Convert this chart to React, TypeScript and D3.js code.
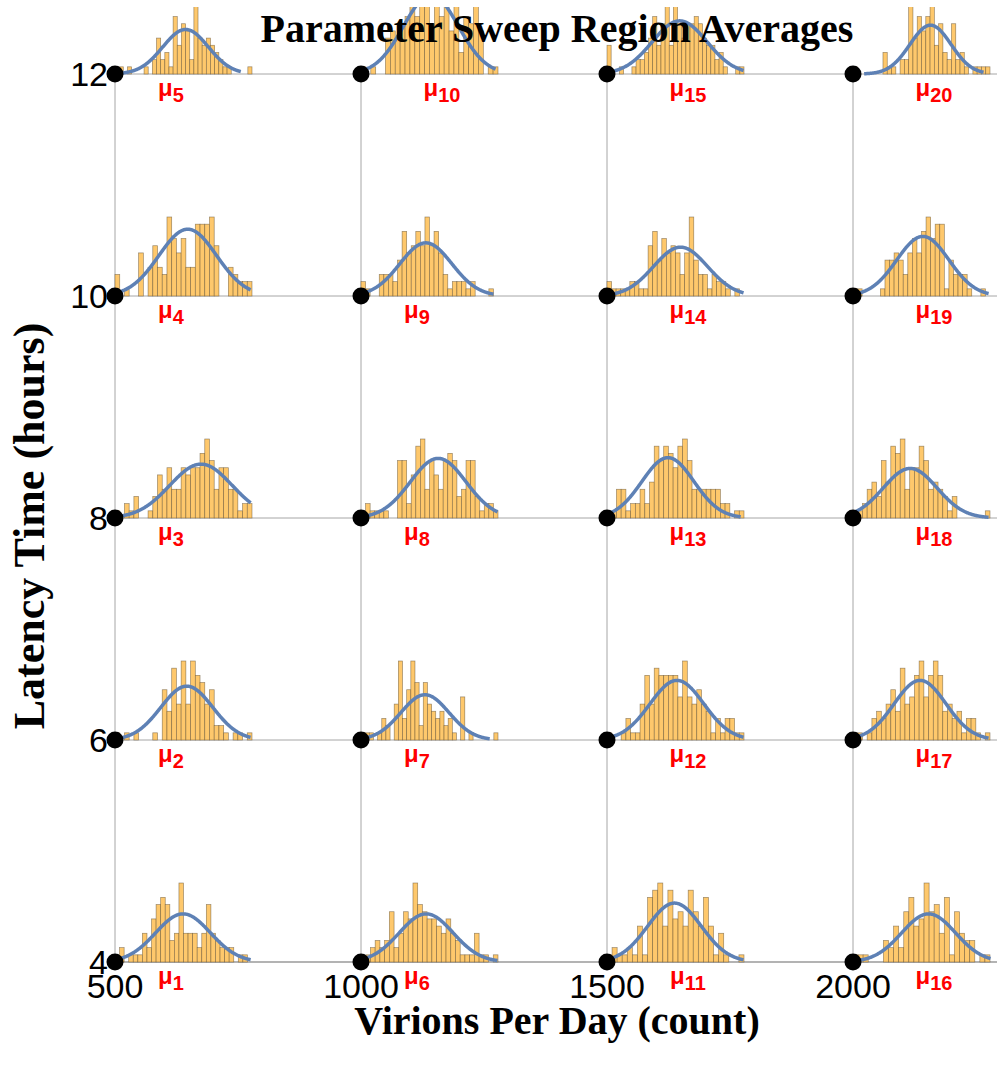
import * as d3 from "d3"

// grid of the sweep
const latencyTicks = [4, 6, 8, 10, 12]
const virionTicks = [500, 1000, 1500, 2000]

// histogram bin heights for each region
const mu1 = [0, 2, 0, 1, 1, 1, 4, 2, 6, 8, 9, 8, 3, 4, 11, 4, 4, 4, 2, 4, 8, 4, 3, 2, 2, 2, 0, 1, 1, 0]
const mu2 = [1, 0, 1, 0, 1, 0, 0, 0, 1, 0, 7, 4, 10, 5, 11, 5, 11, 9, 8, 5, 7, 2, 2, 1, 0, 1, 1, 0, 1]
const mu3 = [1, 0, 2, 1, 3, 0, 0, 1, 3, 6, 4, 7, 4, 4, 7, 6, 7, 7, 9, 11, 8, 4, 7, 7, 4, 4, 1, 2, 2]
const mu4 = [3, 0, 1, 0, 0, 6, 0, 4, 7, 4, 3, 11, 8, 6, 8, 4, 4, 10, 10, 10, 11, 7, 0, 0, 4, 3, 2, 2, 2]
const mu5 = [0, 1, 0, 1, 0, 0, 0, 1, 0, 2, 5, 2, 3, 1, 8, 4, 7, 6, 2, 10, 5, 4, 5, 4, 3, 2, 1, 1, 0, 0, 0, 0, 1]
const mu6 = [0, 1, 2, 3, 2, 3, 7, 2, 4, 7, 6, 11, 8, 7, 6, 6, 5, 4, 6, 4, 3, 1, 1, 1, 4, 1, 1, 0, 1]
const mu7 = [1, 1, 1, 0, 1, 3, 2, 0, 5, 11, 3, 7, 11, 8, 2, 8, 5, 4, 3, 4, 2, 3, 1, 0, 6, 0, 1, 0, 0, 0, 0, 0, 1]
const mu8 = [1, 2, 1, 1, 1, 1, 0, 0, 8, 8, 2, 6, 10, 11, 4, 8, 6, 4, 8, 9, 8, 3, 4, 8, 8, 3, 1, 2, 2, 1]
const mu9 = [2, 1, 0, 0, 3, 3, 3, 2, 5, 9, 6, 7, 9, 7, 11, 7, 9, 6, 3, 1, 2, 2, 2, 1, 2, 0, 0, 0, 1, 0]
const mu10 = [1, 0, 1, 0, 0, 5, 6, 5, 7, 8, 11, 8, 12, 11, 7, 11, 8, 10, 6, 11, 3, 8, 7, 10, 6, 0, 1, 1]
const mu11 = [1, 2, 1, 1, 2, 1, 5, 1, 9, 10, 11, 5, 10, 6, 7, 5, 10, 7, 5, 9, 5, 1, 4, 1, 0, 0, 1]
const mu12 = [1, 0, 0, 1, 3, 1, 1, 5, 9, 5, 10, 9, 9, 9, 9, 6, 11, 6, 5, 7, 5, 4, 1, 3, 1, 3, 3, 1, 1]
const mu13 = [0, 1, 4, 4, 1, 2, 2, 4, 2, 5, 10, 8, 10, 9, 7, 10, 11, 8, 4, 4, 4, 4, 4, 4, 2, 2, 0, 1, 1]
const mu14 = [2, 1, 1, 1, 1, 2, 2, 1, 1, 7, 9, 5, 8, 6, 7, 6, 3, 6, 11, 5, 3, 3, 1, 3, 2, 2, 1, 0, 1, 0]
const mu15 = [4, 0, 0, 1, 0, 0, 1, 2, 2, 3, 5, 8, 4, 7, 10, 4, 10, 7, 5, 7, 7, 8, 7, 5, 4, 4, 2, 3, 1, 0, 0, 1, 1]
const mu16 = [1, 1, 1, 0, 0, 0, 3, 2, 5, 2, 7, 9, 5, 6, 11, 7, 8, 4, 9, 1, 7, 4, 3, 3, 0, 1, 1]
const mu17 = [1, 1, 0, 1, 3, 4, 3, 5, 7, 4, 10, 5, 6, 9, 11, 6, 9, 11, 9, 4, 5, 3, 4, 1, 3, 3, 1, 0, 1]
const mu18 = [0, 1, 2, 4, 5, 3, 8, 5, 10, 9, 11, 4, 7, 7, 10, 8, 4, 5, 4, 3, 1, 3, 0, 0, 0, 0, 0, 0, 1]
const mu19 = [1, 1, 0, 0, 0, 0, 1, 5, 5, 6, 5, 3, 6, 8, 6, 9, 11, 8, 10, 10, 1, 5, 3, 3, 3, 1, 0, 0, 1, 0]
const mu20 = [1, 0, 0, 0, 0, 0, 0, 3, 1, 1, 0, 2, 2, 10, 5, 8, 6, 8, 10, 4, 7, 3, 2, 7, 2, 3, 1, 0, 1, 1, 1, 1]

const regionCounts = [mu1, mu2, mu3, mu4, mu5, mu6, mu7, mu8, mu9, mu10,
    mu11, mu12, mu13, mu14, mu15, mu16, mu17, mu18, mu19, mu20]

// fitted normal curve per region, in bin units
const fitMean = [14.9, 15.2, 18.2, 15.4, 17.0, 13.8, 15.4, 16.9, 14.2, 14.3,
    13.3, 14.8, 12.9, 16.1, 17.5, 14.9, 14.2, 12.1, 15.3, 18.1]
const fitSd = [6.0, 5.5, 6.6, 6.1, 5.5, 5.7, 5.8, 6.1, 5.7, 5.6,
    5.3, 5.7, 5.5, 5.9, 6.6, 5.3, 5.5, 5.7, 5.7, 4.8]
const fitPeak = [6.7, 7.5, 7.5, 9.3, 6.2, 6.7, 6.3, 8.3, 7.4, 11,
    8.2, 8.3, 8.4, 6.8, 7.4, 6.7, 8.3, 6.9, 8.3, 6.8]
const fitStart = [0, 0, 0, 0, 0.6, 0, 0, 0, 0, 0,
    0, 0, 0, 0, 0, 0, 0, 0, 0, 2.6]
const fitEnd = [29.8, 28.8, 28.8, 28.8, 30.4, 29, 31.1, 30, 29.1, 27.6,
    27, 29, 28.4, 30, 33, 27.2, 28.8, 28.8, 29.8, 30.6]

export default function App() {
    const width = 997
    const height = 1070
    const x = d3.scaleLinear().domain([500, 2000]).range([115, 853])
    const y = d3.scaleLinear().domain([4, 12]).range([962, 74])
    const insetW = 137
    const insetH = 79

    const sans = "'Liberation Sans', Arial, sans-serif"
    const serif = "'Liberation Serif', 'Times New Roman', serif"

    const insets = regionCounts.map((counts, k) => {
        const col = Math.floor(k / 5)
        const row = k % 5
        const px = x(virionTicks[col])
        const py = y(latencyTicks[row])
        const n = counts.length
        const lx = d3.scaleLinear().domain([0, n]).range([px, px + insetW])
        const ly = d3.scaleLinear().domain([0, 11]).range([py, py - insetH])
        const pts: [number, number][] = []
        for (let t = fitStart[k]; t <= fitEnd[k]; t += 0.1) {
            pts.push([t, fitPeak[k] * Math.exp(-((t - fitMean[k]) ** 2) / (2 * fitSd[k] ** 2))])
        }
        const path = d3.line<[number, number]>().x((d) => lx(d[0])).y((d) => ly(d[1]))(pts)
        return { k, px, py, counts, lx, ly, path }
    })

    return (
        <svg width={width} height={height} style={{ position: "absolute", left: 0, top: 0, background: "#fff" }}>
            <defs>
                <clipPath id="plotClip">
                    <rect x={0} y={7} width={width} height={height} />
                </clipPath>
            </defs>
            <rect width={width} height={height} fill="#fff" />

            {/* grid */}
            {latencyTicks.slice(1).map((t) => (
                <line key={"h" + t} x1={x(500)} x2={width} y1={y(t)} y2={y(t)} stroke="#a6a6a6" strokeWidth={1} />
            ))}
            {virionTicks.slice(1).map((t) => (
                <line key={"v" + t} x1={x(t)} x2={x(t)} y1={y(12)} y2={y(4)} stroke="#a6a6a6" strokeWidth={1} />
            ))}
            <line x1={x(500)} x2={x(500)} y1={y(12)} y2={y(4)} stroke="#a6a6a6" strokeWidth={1} />
            <line x1={x(500)} x2={width} y1={y(4)} y2={y(4)} stroke="#b3b3b3" strokeWidth={2} />

            <g clipPath="url(#plotClip)">
                {insets.map((ins) => (
                    <g key={"h" + ins.k}>
                        {ins.counts.map((c, i) =>
                            c > 0 ? (
                                <rect
                                    key={i}
                                    x={ins.lx(i)}
                                    y={ins.ly(c)}
                                    width={ins.lx(i + 1) - ins.lx(i)}
                                    height={ins.py - ins.ly(c)}
                                    fill="#fec86c"
                                    stroke="#5c4a2c"
                                    strokeOpacity={0.6}
                                    strokeWidth={0.7}
                                />
                            ) : null
                        )}
                        <path d={ins.path ?? ""} fill="none" stroke="#5e81b5" strokeWidth={3.5} strokeLinejoin="round" />
                    </g>
                ))}
            </g>

            {/* sample points */}
            {insets.map((ins) => (
                <circle key={"p" + ins.k} cx={ins.px} cy={ins.py} r={8.5} fill="#000" />
            ))}

            {/* tick labels */}
            {latencyTicks.map((t) => (
                <text key={"yl" + t} x={108} y={y(t)} dy="0.36em" textAnchor="end" fontFamily={sans} fontSize={34}>
                    {t}
                </text>
            ))}
            {virionTicks.map((t) => (
                <text key={"xl" + t} x={x(t)} y={998} textAnchor="middle" fontFamily={sans} fontSize={34}>
                    {t}
                </text>
            ))}

            {/* region labels */}
            {insets.map((ins) => {
                const label = String(ins.k + 1)
                return (
                    <text
                        key={"m" + ins.k}
                        x={ins.px + (label.length > 1 ? 81 : 56)}
                        y={ins.py + 22}
                        textAnchor="middle"
                        fontFamily={sans}
                        fontWeight="bold"
                        fontSize={24}
                        fill="#ff0000"
                    >
                        <tspan>μ</tspan>
                        <tspan fontSize={20} dy={6}>{label}</tspan>
                    </text>
                )
            })}

            <text x={557} y={42} textAnchor="middle" fontFamily={serif} fontWeight="bold" fontSize={40}>
                Parameter Sweep Region Averages
            </text>
            <text x={557} y={1034} textAnchor="middle" fontFamily={serif} fontWeight="bold" fontSize={40}>
                Virions Per Day (count)
            </text>
            <text
                transform={`translate(44,526) rotate(-90)`}
                textAnchor="middle"
                fontFamily={serif}
                fontWeight="bold"
                fontSize={44}
            >
                Latency Time (hours)
            </text>
        </svg>
    )
}
